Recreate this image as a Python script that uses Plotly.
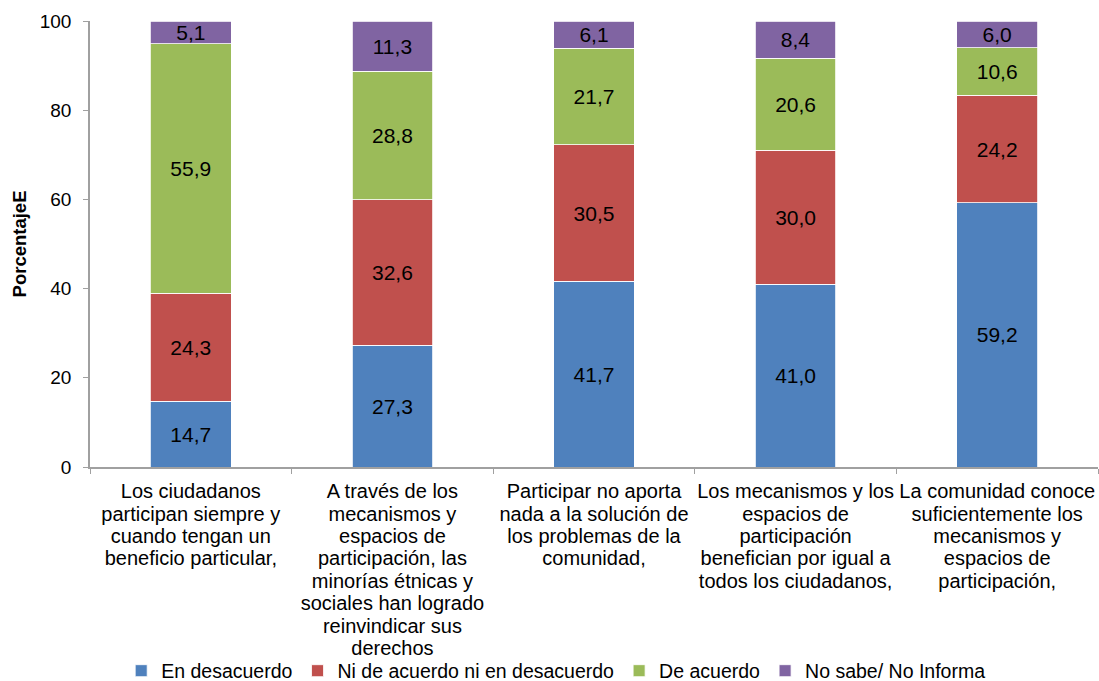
import plotly.graph_objects as go

categories = [
    "Los ciudadanos<br>participan siempre y<br>cuando tengan un<br>beneficio particular,",
    "A través de los<br>mecanismos y<br>espacios de<br>participación, las<br>minorías étnicas y<br>sociales han logrado<br>reinvindicar sus<br>derechos",
    "Participar no aporta<br>nada a la solución de<br>los problemas de la<br>comunidad,",
    "Los mecanismos y los<br>espacios de<br>participación<br>benefician por igual a<br>todos los ciudadanos,",
    "La comunidad conoce<br>suficientemente los<br>mecanismos y<br>espacios de<br>participación,",
]
series_names = ["En desacuerdo", "Ni de acuerdo ni en desacuerdo", "De acuerdo", "No sabe/ No Informa"]
en_desacuerdo = [14.7, 27.3, 41.7, 41.0, 59.2]
ni_ni = [24.3, 32.6, 30.5, 30.0, 24.2]
de_acuerdo = [55.9, 28.8, 21.7, 20.6, 10.6]
no_sabe = [5.1, 11.3, 6.1, 8.4, 6.0]
colors = ["#4F81BD", "#C0504D", "#9BBB59", "#8064A2"]

FONT = "Liberation Sans, Arial, sans-serif"

# tick text: larger glyphs with tighter line spacing (line spacing follows base tickfont size)
tick_text = [
    "<br>".join(f"<span style='font-size:20px'>{line}</span>" for line in c.split("<br>"))
    for c in categories
]

fig = go.Figure()
for name, vals, col in zip(series_names, [en_desacuerdo, ni_ni, de_acuerdo, no_sabe], colors):
    fig.add_trace(go.Bar(
        x=categories, y=vals, name=name,
        marker=dict(color=col, line=dict(color="white", width=0.8)),
        text=[f"{v:.1f}".replace(".", ",") for v in vals],
        textposition="inside", insidetextanchor="middle", constraintext="none",
        textfont=dict(family=FONT, size=21, color="black"),
        width=0.4,
    ))

fig.update_layout(
    barmode="stack",
    width=1099, height=681,
    paper_bgcolor="white", plot_bgcolor="white",
    margin=dict(l=90, r=1, t=21, b=214),
    font=dict(family=FONT, size=19, color="black"),
    legend=dict(orientation="h", x=0.462, xanchor="center", xref="paper",
                y=(681 - 671) / 681, yanchor="middle", yref="container",
                font=dict(family=FONT, size=19.5), traceorder="normal",
                itemwidth=30, bgcolor="rgba(0,0,0,0)"),
    showlegend=True,
)
fig.update_xaxes(
    type="category", tickangle=0, tickson="boundaries",
    tickvals=categories, ticktext=tick_text,
    ticks="outside", ticklen=5, tickcolor="#A0A0A0",
    showline=True, linecolor="#A0A0A0", linewidth=1.5,
    showgrid=False, tickfont=dict(family=FONT, size=17.2),
    ticklabelstandoff=9,
    automargin=False,
)
fig.update_yaxes(
    range=[0, 100], dtick=20, ticks="outside", ticklen=5, tickcolor="#A0A0A0",
    showline=True, linecolor="#A0A0A0", linewidth=1.5, showgrid=False, zeroline=False,
    tickfont=dict(family=FONT, size=19), ticklabelstandoff=8,
    title=dict(text="<b>PorcentajeE</b>", font=dict(family=FONT, size=18.5), standoff=8),
    automargin=False,
)

fig.write_html("out.html", config={"displayModeBar": False},
               post_script="document.body.style.margin='0';")
